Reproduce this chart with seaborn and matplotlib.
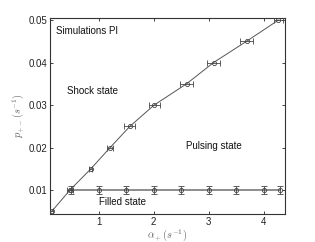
import matplotlib
matplotlib.use("Agg")
import matplotlib.pyplot as plt
import pandas as pd
import seaborn as sns

# shock / pulsing boundary (horizontal error bars)
shock_alpha = [0.15, 0.48, 0.86, 1.21, 1.57, 2.01, 2.60, 3.09, 3.69, 4.27]
shock_p = [0.005, 0.010, 0.015, 0.020, 0.025, 0.030, 0.035, 0.040, 0.045, 0.050]
shock_err = [0.03, 0.05, 0.03, 0.06, 0.10, 0.10, 0.12, 0.11, 0.11, 0.08]

# filled / pulsing boundary (vertical error bars)
filled_alpha = [0.5, 1.0, 1.5, 2.0, 2.5, 3.0, 3.5, 4.0, 4.3]
filled_p = [0.010, 0.010, 0.010, 0.010, 0.010, 0.010, 0.010, 0.010, 0.010]
filled_err = [0.0009, 0.0009, 0.0009, 0.0009, 0.0009, 0.0009, 0.0009, 0.0009, 0.0009]

x_ticks = [1, 2, 3, 4]
y_ticks = [0.01, 0.02, 0.03, 0.04, 0.05]


def main():
    sns.set_style("ticks")
    plt.rcParams["font.family"] = ["Liberation Sans", "DejaVu Sans"]
    plt.rcParams["mathtext.fontset"] = "cm"

    shock = pd.DataFrame({"alpha": shock_alpha, "p": shock_p})
    filled = pd.DataFrame({"alpha": filled_alpha, "p": filled_p})

    fig = plt.figure(figsize=(3.15, 2.42), dpi=100)
    ax = fig.add_axes([0.159, 0.116, 0.746, 0.810])

    sns.lineplot(data=filled, x="alpha", y="p", ax=ax, color="#8c8c8c",
                 linewidth=1.4, estimator=None, sort=False, zorder=1)
    sns.lineplot(data=shock, x="alpha", y="p", ax=ax, color="#555555",
                 linewidth=0.7, estimator=None, sort=False, zorder=2)

    ax.errorbar(filled_alpha, filled_p, yerr=filled_err, fmt="o", ms=3,
                mfc="none", mec="#444444", ecolor="#444444", elinewidth=0.6,
                capsize=2, capthick=0.6, mew=0.6, zorder=3)
    ax.errorbar(shock_alpha, shock_p, xerr=shock_err, fmt="o", ms=3,
                mfc="none", mec="#444444", ecolor="#444444", elinewidth=0.6,
                capsize=2, capthick=0.6, mew=0.6, zorder=3)

    ax.set_xlim(0.12, 4.39)
    ax.set_ylim(0.0044, 0.0505)
    ax.set_xticks(x_ticks)
    ax.set_yticks(y_ticks)
    ax.set_xticklabels([str(t) for t in x_ticks])
    ax.set_yticklabels([f"{t:.2f}" for t in y_ticks])
    ax.tick_params(direction="in", length=2.5, width=0.6, labelsize=7,
                   top=True, right=True, pad=2, colors="#222222")
    for s in ax.spines.values():
        s.set_visible(True)
        s.set_linewidth(0.8)
        s.set_color("#333333")

    ax.set_xlabel(r"$\alpha_+(s^{-1})$", fontsize=7.5, color="#666666", labelpad=0)
    ax.set_ylabel(r"$p_{+-}(s^{-1})$", fontsize=7.5, color="#666666", labelpad=2)

    ax.text(0.22, 0.0474, "Simulations PI", fontsize=7, color="#111111", va="center")
    ax.text(0.42, 0.0333, "Shock state", fontsize=7, color="#111111", va="center")
    ax.text(2.59, 0.0204, "Pulsing state", fontsize=7, color="#111111", va="center")
    ax.text(1.0, 0.0072, "Filled state", fontsize=7, color="#111111", va="center")

    fig.savefig("out.png", dpi=100)


if __name__ == "__main__":
    main()
